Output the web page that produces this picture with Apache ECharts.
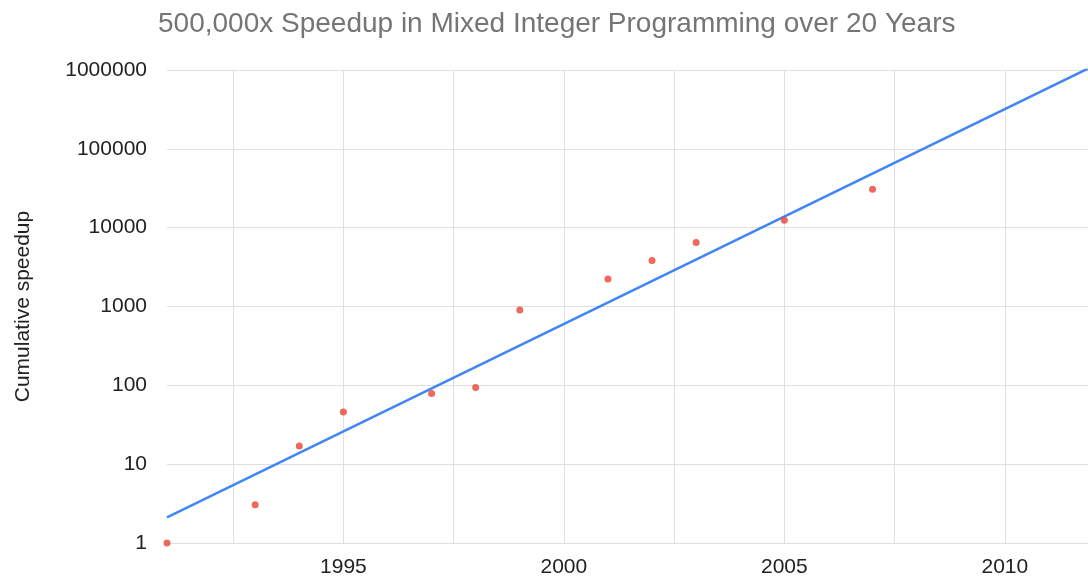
<!DOCTYPE html>
<html>
<head>
<meta charset="utf-8">
<script src="https://cdn.jsdelivr.net/npm/echarts@6/dist/echarts.min.js"></script>
<style>html,body{margin:0;padding:0;background:#fff}#c{width:1088px;height:580px}</style>
</head>
<body>
<div id="c"></div>
<script>
const years = [1991, 1993, 1994, 1995, 1997, 1998, 1999, 2001, 2002, 2003, 2005, 2007];
const speedup = [1, 3.06, 17, 46, 79, 94, 900, 2240, 3830, 6470, 12400, 30800];
const trendYears = [1991, 2012];
const trendValues = [2.11, 1120000];
const xGridTicks = [1992.5, 1995, 1997.5, 2000, 2002.5, 2005, 2007.5, 2010];
const xLabelTicks = [1995, 2000, 2005, 2010];
const titleText = '500,000x Speedup in Mixed Integer Programming over 20 Years';
const yAxisTitle = 'Cumulative speedup';

const font = '"Liberation Sans", Arial, sans-serif';
const chart = echarts.init(document.getElementById('c'), null, {renderer: 'canvas'});
chart.setOption({
  animation: false,
  backgroundColor: '#ffffff',
  title: {
    text: titleText,
    left: 158, top: 10, padding: 0,
    textStyle: {fontFamily: font, fontSize: 28, fontWeight: 'normal', color: '#757575'}
  },
  grid: {left: 167, right: -5, top: 70, bottom: 37, containLabel: false, outerBoundsMode: 'none'},
  xAxis: {
    type: 'value', min: 1991, max: 2012,
    axisLine: {show: false},
    axisTick: {show: false, customValues: xGridTicks},
    axisLabel: {customValues: xLabelTicks, margin: 14, fontFamily: font, fontSize: 21, color: '#222222', formatter: v => String(v)},
    splitLine: {show: true, lineStyle: {color: '#e0e0e0', width: 1}}
  },
  yAxis: {
    type: 'log', logBase: 10, min: 1, max: 1000000,
    name: yAxisTitle, nameLocation: 'middle', nameGap: 133, nameRotate: 90,
    nameTextStyle: {fontFamily: font, fontSize: 21, color: '#222222'},
    axisLine: {show: false}, axisTick: {show: false},
    axisLabel: {margin: 20, fontFamily: font, fontSize: 21, color: '#222222', formatter: v => String(Math.round(v))},
    splitLine: {show: true, lineStyle: {color: '#e0e0e0', width: 1}}
  },
  series: [
    {
      type: 'line',
      data: trendYears.map((y, i) => [y, trendValues[i]]),
      showSymbol: false, symbol: 'none',
      lineStyle: {color: '#4285f4', width: 2.5},
      z: 2
    },
    {
      type: 'scatter',
      data: years.map((y, i) => [y, speedup[i]]),
      symbol: 'circle', symbolSize: 7,
      itemStyle: {color: '#ea4335'},
      clip: false,
      z: 3
    }
  ]
});
</script>
</body>
</html>
